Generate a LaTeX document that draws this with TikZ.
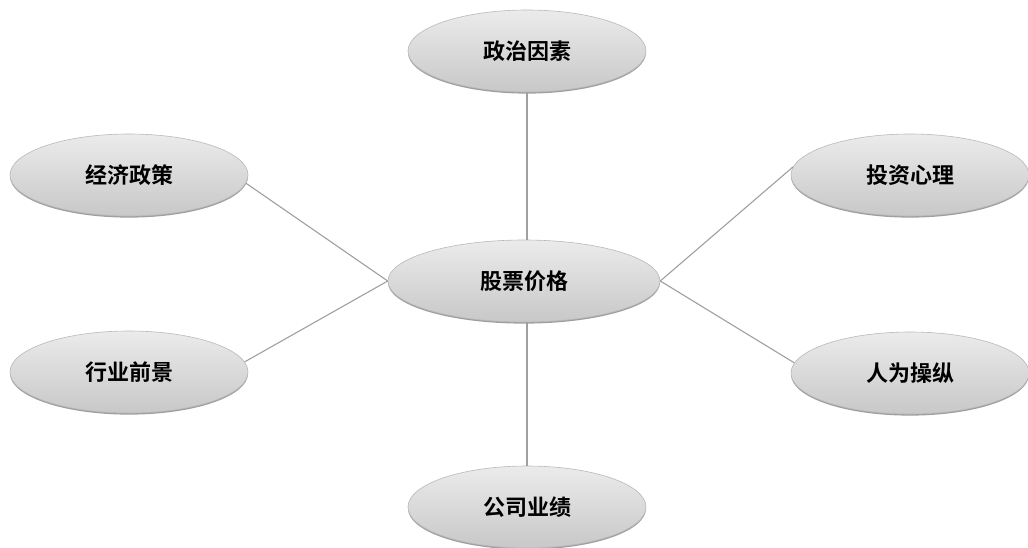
\documentclass[tikz,border=0pt]{standalone}
\usepackage{fontspec}
\newfontfamily\cjk{Noto Sans CJK SC}[BoldFont={Noto Sans CJK SC Bold}]
\usetikzlibrary{shapes.geometric,shadows}
\definecolor{linegray}{HTML}{A0A0A0}
\definecolor{ellhi}{HTML}{EBEBEB}
\definecolor{elllo}{HTML}{C8C8C8}
\tikzset{
  bubble/.style={ellipse, inner sep=0pt, minimum width=238pt, minimum height=82pt,
    top color=ellhi, bottom color=elllo, draw=gray!55, line width=0.6pt,
    drop shadow={shadow xshift=0pt, shadow yshift=-1.6pt, fill=gray!75, opacity=1},
    font=\cjk\bfseries\fontsize{22}{24}\selectfont, text=black},
  link/.style={draw=linegray, line width=1.1pt}
}
\begin{document}
\begin{tikzpicture}[x=1pt,y=-1pt]
\useasboundingbox[fill=white] (0,0) rectangle (1028,547);
\node[bubble] (pol) at (527,51) {政治因素};
\node[bubble] (eco) at (129,175) {经济政策};
\node[bubble] (ind) at (129,372) {行业前景};
\node[bubble] (inv) at (910,175) {投资心理};
\node[bubble] (man) at (910,373) {人为操纵};
\node[bubble] (com) at (527,507) {公司业绩};
\node[bubble, minimum width=272pt] (price) at (524,281) {股票价格};
\draw[link] (pol.south) -- (price.north -| pol.south);
\draw[link] (com.north) -- (price.south -| com.north);
\draw[link] (eco.-4) -- (price.west);
\draw[link] (ind.5) -- (price.west);
\draw[link] (inv.-184) -- (price.east);
\draw[link] (man.175) -- (price.east);
\end{tikzpicture}
\end{document}
